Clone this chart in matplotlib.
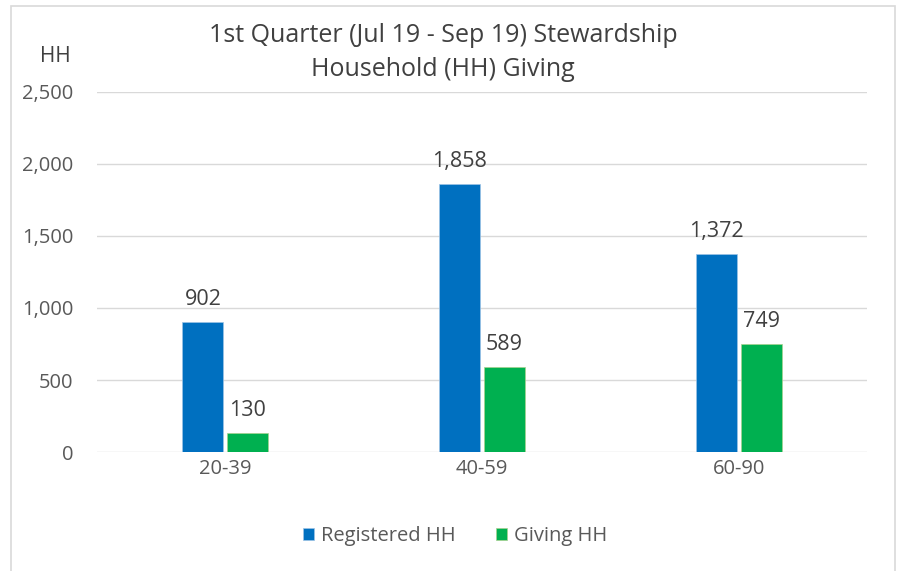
import numpy as np
import matplotlib.pyplot as plt
from matplotlib.patches import Rectangle

plt.rcParams['font.family'] = ['Open Sans', 'DejaVu Sans']

categories = ["20-39", "40-59", "60-90"]
registered = [902, 1858, 1372]
giving = [130, 589, 749]
yticks = [0, 500, 1000, 1500, 2000, 2500]
ytick_labels = ["0", "500", "1,000", "1,500", "2,000", "2,500"]

blue = "#0070C0"
green = "#00B050"
text_gray = "#595959"
label_gray = "#404040"

fig = plt.figure(figsize=(8.98, 5.71), dpi=100)
ax = fig.add_axes([97/898, 119/571, 770/898, 360/571])

# outer chart border
fig.patches.append(Rectangle((11/898, -0.01), 884/898, (565/571) + 0.01,
                             transform=fig.transFigure, fill=False,
                             edgecolor="#D9D9D9", linewidth=1.2))

x = np.arange(len(categories))
w = 0.16
off = 0.0875
b1 = ax.bar(x - off, registered, w, color=blue, edgecolor="#9DC3E6", linewidth=0.5,
            label="Registered HH", zorder=3)
b2 = ax.bar(x + off, giving, w, color=green, edgecolor="#A9D18E", linewidth=0.5,
            label="Giving HH", zorder=3)

for bars, vals in ((b1, registered), (b2, giving)):
    for rect, v in zip(bars, vals):
        ax.annotate(f"{v:,}", (rect.get_x() + rect.get_width() / 2, v),
                    xytext=(0, 9), textcoords="offset points", ha="center",
                    va="bottom", fontsize=15.5, color=label_gray)

ax.set_xlim(-0.5, 2.5)
ax.set_ylim(0, 2500)
ax.set_yticks(yticks)
ax.set_yticklabels(ytick_labels)
ax.set_xticks(x)
ax.set_xticklabels(categories)
ax.tick_params(axis="both", length=0, colors=text_gray, labelsize=14.5)
ax.tick_params(axis="y", pad=17)
ax.tick_params(axis="x", pad=5)
ax.grid(axis="y", color="#D9D9D9", linewidth=1, zorder=0)
for s in ax.spines.values():
    s.set_visible(False)

fig.text(443/898, 1 - 35/571, "1st Quarter (Jul 19 - Sep 19) Stewardship",
         ha="center", va="center", fontsize=18, color=label_gray)
fig.text(443/898, 1 - 70/571, "Household (HH) Giving",
         ha="center", va="center", fontsize=18, color=label_gray)
fig.text(55/898, 1 - 57/571, "HH", ha="center", va="center",
         fontsize=15, color=label_gray)

fig.legend(loc="center", bbox_to_anchor=(455/898, 1 - 536/571), ncol=2,
           frameon=False, fontsize=14.5, handlelength=0.55, handleheight=0.55,
           columnspacing=2.0, handletextpad=0.35, labelcolor=text_gray)

fig.savefig("out.png", dpi=100)
